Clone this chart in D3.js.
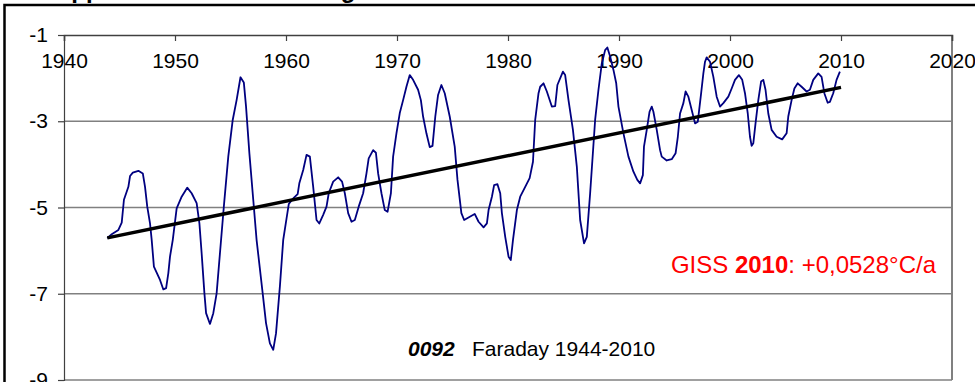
<!DOCTYPE html>
<html>
<head>
<meta charset="utf-8">
<script src="https://cdn.jsdelivr.net/npm/d3@7/dist/d3.min.js"></script>
<style>
  html, body { margin: 0; padding: 0; background: #fff; overflow: hidden; }
  svg { display: block; font-family: "Liberation Sans", Arial, sans-serif; }
</style>
</head>
<body>
<svg id="chart" width="975" height="382"></svg>
<script>
// Faraday station anomaly series (smoothed), year -> °C
const years = [
  1943.9, 1944.3, 1944.9, 1945.2, 1945.4, 1945.8, 1945.95, 1946.2, 1946.7, 1947.1,
  1947.3, 1947.5, 1947.75, 1947.9, 1948.1, 1948.65, 1948.95, 1949.2, 1949.4, 1949.55,
  1949.8, 1950.15, 1950.6, 1951.1, 1951.5, 1951.95, 1952.2, 1952.4, 1952.65, 1952.8,
  1953.15, 1953.45, 1953.75, 1954.05, 1954.4, 1954.8, 1955.2, 1955.55, 1955.9, 1956.2,
  1956.4, 1956.7, 1957.05, 1957.35, 1957.9, 1958.2, 1958.55, 1958.85, 1959.1, 1959.45,
  1959.75, 1960.05, 1960.25, 1960.65, 1961.05, 1961.2, 1961.55, 1961.85, 1962.15, 1962.45,
  1962.75, 1963.0, 1963.35, 1963.65, 1963.85, 1964.25, 1964.7, 1965.05, 1965.3, 1965.6,
  1965.9, 1966.2, 1966.55, 1966.95, 1967.25, 1967.45, 1967.85, 1968.1, 1968.3, 1968.6,
  1968.9, 1969.15, 1969.45, 1969.65, 1969.95, 1970.25, 1970.55, 1970.85, 1971.15, 1971.45,
  1971.9, 1972.15, 1972.35, 1972.65, 1972.95, 1973.2, 1973.45, 1973.7, 1974.0, 1974.3,
  1974.75, 1975.2, 1975.45, 1975.8, 1976.05, 1976.6, 1977.0, 1977.35, 1977.8, 1978.1,
  1978.25, 1978.55, 1978.75, 1979.05, 1979.3, 1979.45, 1979.75, 1980.05, 1980.25, 1980.45,
  1980.8, 1981.1, 1981.55, 1981.95, 1982.25, 1982.45, 1982.75, 1982.9, 1983.2, 1983.5,
  1983.95, 1984.25, 1984.45, 1984.95, 1985.15, 1985.45, 1985.85, 1986.2, 1986.5, 1986.85,
  1987.1, 1987.4, 1987.85, 1988.15, 1988.45, 1988.75, 1988.95, 1989.2, 1989.5, 1989.75,
  1989.95, 1990.4, 1990.85, 1991.3, 1991.65, 1991.9, 1992.15, 1992.25, 1992.5, 1992.75,
  1992.95, 1993.1, 1993.4, 1993.7, 1993.85, 1994.3, 1994.75, 1995.1, 1995.3, 1995.5,
  1995.8, 1996.0, 1996.25, 1996.55, 1996.85, 1997.1, 1997.4, 1997.6, 1997.75, 1997.9,
  1998.2, 1998.5, 1998.8, 1999.1, 1999.4, 1999.85, 2000.15, 2000.45, 2000.8, 2001.1,
  2001.35, 2001.6, 2001.8, 2001.95, 2002.1, 2002.3, 2002.55, 2002.8, 2003.0, 2003.2,
  2003.45, 2003.75, 2004.2, 2004.7, 2005.1, 2005.25, 2005.55, 2005.8, 2006.1, 2006.45,
  2006.9, 2007.2, 2007.5, 2007.95, 2008.25, 2008.5, 2008.8, 2009.0, 2009.3, 2009.6,
  2009.9
];
const temps = [
  -5.71, -5.62, -5.52, -5.35, -4.82, -4.52, -4.27, -4.19, -4.15, -4.21,
  -4.52, -4.98, -5.37, -5.75, -6.37, -6.68, -6.90, -6.87, -6.52, -6.14,
  -5.75, -5.02, -4.75, -4.54, -4.67, -4.90, -5.37, -6.06, -6.99, -7.45,
  -7.70, -7.45, -6.99, -6.06, -4.98, -3.82, -2.97, -2.51, -1.98, -2.10,
  -2.66, -3.74, -4.82, -5.75, -6.99, -7.68, -8.15, -8.30, -7.92, -6.83,
  -5.75, -5.25, -4.92, -4.79, -4.69, -4.44, -4.13, -3.78, -3.82, -4.52,
  -5.29, -5.37, -5.17, -4.98, -4.67, -4.40, -4.30, -4.40, -4.67, -5.13,
  -5.33, -5.29, -4.98, -4.67, -4.21, -3.86, -3.67, -3.73, -4.21, -4.67,
  -5.06, -5.10, -4.67, -3.82, -3.28, -2.81, -2.51, -2.20, -1.93, -2.04,
  -2.27, -2.51, -2.89, -3.28, -3.60, -3.57, -2.89, -2.39, -2.16, -2.35,
  -2.89, -3.59, -4.36, -5.13, -5.29, -5.21, -5.15, -5.33, -5.46, -5.37,
  -5.06, -4.75, -4.48, -4.46, -4.67, -5.13, -5.68, -6.14, -6.22, -5.75,
  -5.06, -4.75, -4.52, -4.32, -3.94, -2.97, -2.35, -2.20, -2.12, -2.31,
  -2.66, -2.65, -2.16, -1.85, -1.93, -2.51, -3.20, -4.05, -5.29, -5.83,
  -5.68, -4.67, -2.97, -2.27, -1.66, -1.35, -1.29, -1.50, -1.81, -2.12,
  -2.66, -3.28, -3.82, -4.17, -4.36, -4.44, -4.25, -3.59, -3.20, -2.78,
  -2.66, -2.78, -3.20, -3.67, -3.82, -3.91, -3.88, -3.74, -3.36, -2.82,
  -2.58, -2.31, -2.43, -2.74, -3.05, -3.01, -2.35, -1.89, -1.62, -1.52,
  -1.62, -1.97, -2.43, -2.66, -2.58, -2.43, -2.24, -2.04, -1.93, -2.04,
  -2.35, -2.82, -3.36, -3.57, -3.51, -3.05, -2.51, -2.08, -2.04, -2.27,
  -2.82, -3.20, -3.36, -3.42, -3.28, -2.89, -2.51, -2.24, -2.12, -2.20,
  -2.31, -2.27, -2.04, -1.89, -1.97, -2.35, -2.57, -2.55, -2.35, -2.04,
  -1.85
];

// Linear trend (GISS 2010): start value and slope in °C per year
const trendYears = [1943.9, 2010.0];
const trendStartValue = -5.705;
const trendSlope = 0.0528;

const xTicks = [1940, 1950, 1960, 1970, 1980, 1990, 2000, 2010, 2020];
const yTicks = [-1, -3, -5, -7, -9];

const titleText = "Approximierte Erwärmung an Stationen der Antarktischen Halbinsel";
const trendLabel = ["GISS ", "2010", ": +0,0528°C/a"];
const stationId = "0092";
const stationText = "Faraday 1944-2010";

const svg = d3.select("#chart");
const plot = { left: 64, right: 952, top: 35, bottom: 380 };

const x = d3.scaleLinear().domain([1940, 2020]).range([plot.left, plot.right]);
const y = d3.scaleLinear().domain([-9, -1]).range([plot.bottom, plot.top]);

// Outer chart frame (runs past the right and bottom edge)
svg.append("rect")
  .attr("x", 4.5).attr("y", 5).attr("width", 1100).attr("height", 600)
  .attr("fill", "none").attr("stroke", "#000").attr("stroke-width", 2.5);

// Title, sitting above the visible area
svg.append("text")
  .attr("x", 54).attr("y", -2.5)
  .attr("font-size", 24).attr("font-weight", "bold").attr("fill", "#000")
  .text(titleText);

// Horizontal gridlines
svg.append("g")
  .selectAll("line")
  .data(yTicks.filter(d => d !== -1))
  .join("line")
  .attr("x1", plot.left).attr("x2", plot.right)
  .attr("y1", d => y(d)).attr("y2", d => y(d))
  .attr("stroke", "#808080").attr("stroke-width", 1.5);

// Right border of the plot area
svg.append("line")
  .attr("x1", plot.right).attr("x2", plot.right)
  .attr("y1", plot.top).attr("y2", plot.bottom)
  .attr("stroke", "#808080").attr("stroke-width", 2);

// Plain hyphen-minus labels
const fmt = d => String(d);

// Y axis on the left
const yAxis = d3.axisLeft(y).tickValues(yTicks).tickSize(6).tickPadding(10).tickFormat(fmt);
const gy = svg.append("g").attr("transform", `translate(${plot.left},0)`).call(yAxis);
gy.select(".domain").attr("stroke", "#404040").attr("stroke-width", 1.2);
gy.selectAll(".tick line").attr("stroke", "#404040").attr("stroke-width", 1.2);
gy.selectAll(".tick text")
  .attr("font-family", "'Liberation Sans', Arial, sans-serif")
  .attr("font-size", 21).attr("fill", "#000");

// X axis drawn along the top (crosses at -1), ticks pointing down
const xAxis = d3.axisBottom(x).tickValues(xTicks).tickSize(6).tickPadding(12).tickFormat(fmt);
const gx = svg.append("g").attr("transform", `translate(0,${y(-1)})`).call(xAxis);
gx.select(".domain").attr("stroke", "#404040").attr("stroke-width", 1.5);
gx.selectAll(".tick line").attr("stroke", "#404040").attr("stroke-width", 1.2);
gx.selectAll(".tick text")
  .attr("font-family", "'Liberation Sans', Arial, sans-serif")
  .attr("font-size", 21).attr("fill", "#000");

// Temperature series
const series = years.map((yr, i) => ({ year: yr, value: temps[i] }));
const line = d3.line().x(d => x(d.year)).y(d => y(d.value)).curve(d3.curveLinear);
svg.append("path")
  .datum(series)
  .attr("d", line)
  .attr("fill", "none")
  .attr("stroke", "#000080")
  .attr("stroke-width", 1.8)
  .attr("stroke-linejoin", "round");

// Linear trend line
const trend = trendYears.map(yr => ({ year: yr, value: trendStartValue + trendSlope * (yr - trendYears[0]) }));
svg.append("path")
  .datum(trend)
  .attr("d", line)
  .attr("fill", "none")
  .attr("stroke", "#000")
  .attr("stroke-width", 3.5);

// Trend annotation
const tl = svg.append("text")
  .attr("x", 936).attr("y", 273)
  .attr("text-anchor", "end")
  .attr("font-size", 24).attr("fill", "#ff0000");
tl.append("tspan").text(trendLabel[0]);
tl.append("tspan").attr("font-weight", "bold").text(trendLabel[1]);
tl.append("tspan").text(trendLabel[2]);

// Station label
const sl = svg.append("text")
  .attr("x", 408).attr("y", 356)
  .attr("font-size", 21).attr("fill", "#000");
sl.append("tspan").attr("font-weight", "bold").attr("font-style", "italic").text(stationId);
sl.append("tspan").attr("x", 472).text(stationText);
</script>
</body>
</html>
